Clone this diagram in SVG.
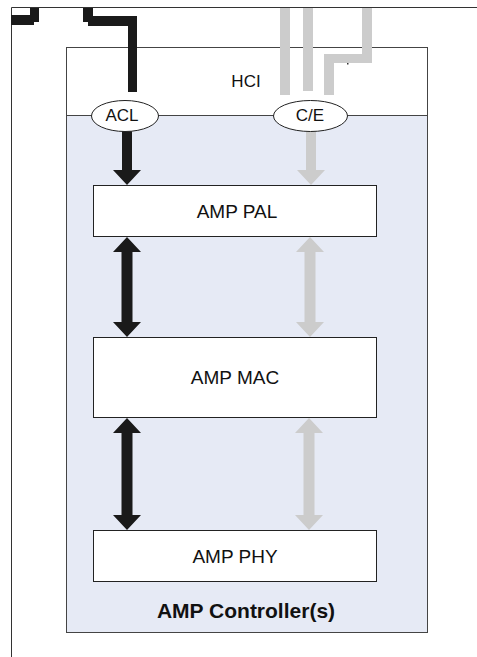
<svg xmlns="http://www.w3.org/2000/svg" width="477" height="657" viewBox="0 0 477 657">
<style>
.lbl{font-family:"Liberation Sans",Arial,sans-serif;fill:#111;text-anchor:middle}
.box{fill:#fff;stroke:#222;stroke-width:1}
.blk{fill:#1a1a1a}
.gry{fill:#cccccc}
.frame{stroke:#333;stroke-width:1;fill:none}
</style>
<rect width="477" height="657" fill="#fff"/>
<g id="frame">
<path class="frame" d="M11.5 657 V7.5 H477"/>
</g>
<g id="hci">
<rect x="66.5" y="47.5" width="361" height="68" fill="#fff" stroke="#444" stroke-width="1"/>
<text class="lbl" x="246" y="87" font-size="17">HCI</text>
</g>
<g id="amp-controller">
<rect x="66.5" y="115.5" width="361" height="517" fill="#e6eaf5" stroke="#444" stroke-width="1"/>
<text class="lbl" x="246" y="618" font-size="21" font-weight="bold">AMP Controller(s)</text>
</g>
<g id="connectors">
<rect class="blk" x="30" y="8" width="9" height="14"/>
<rect class="blk" x="11" y="15" width="23" height="10"/>
<rect class="blk" x="83" y="8" width="10" height="14"/>
<rect class="blk" x="88" y="16" width="49" height="10"/>
<rect class="blk" x="128" y="21" width="9" height="71"/>
<rect class="gry" x="280" y="8" width="10" height="87"/>
<rect class="gry" x="303" y="8" width="10" height="83"/>
<rect class="gry" x="362" y="8" width="10" height="55"/>
<rect class="gry" x="324" y="54" width="48" height="9"/>
<rect class="gry" x="324" y="54" width="10" height="41"/>
<rect x="347" y="63" width="1.5" height="1.5" fill="#333"/>
<polygon class="blk" points="122,130 132,130 132,170 141,170 127,185 113,170 122,170"/>
<polygon class="gry" points="306,130 316,130 316,170 325,170 311,185 297,170 306,170"/>
<polygon class="blk" points="127,237 141,252 132.5,252 132.5,322 141,322 127,337 113,322 121.5,322 121.5,252 113,252"/>
<polygon class="blk" points="127,418 141,433 132.5,433 132.5,515 141,515 127,530 113,515 121.5,515 121.5,433 113,433"/>
<polygon class="gry" points="310,237 324,252 315.5,252 315.5,322 324,322 310,337 296,322 304.5,322 304.5,252 296,252"/>
<polygon class="gry" points="309,418 323,433 314.5,433 314.5,515 323,515 309,530 295,515 303.5,515 303.5,433 295,433"/>
</g>
<g id="acl">
<ellipse cx="125" cy="116" rx="33.5" ry="15.5" fill="#fff" stroke="#222" stroke-width="1"/>
<text class="lbl" x="122" y="121" font-size="17">ACL</text>
</g>
<g id="ce">
<ellipse cx="310.5" cy="116" rx="37" ry="15.5" fill="#fff" stroke="#222" stroke-width="1"/>
<text class="lbl" x="310" y="121" font-size="17">C/E</text>
</g>
<g id="amp-pal">
<rect class="box" x="93.5" y="185.5" width="283" height="51"/>
<text class="lbl" x="237" y="218" font-size="19">AMP PAL</text>
</g>
<g id="amp-mac">
<rect class="box" x="93.5" y="337.5" width="283" height="80"/>
<text class="lbl" x="235" y="383.5" font-size="19">AMP MAC</text>
</g>
<g id="amp-phy">
<rect class="box" x="93.5" y="530.5" width="283" height="51"/>
<text class="lbl" x="235" y="563" font-size="19">AMP PHY</text>
</g>
</svg>
